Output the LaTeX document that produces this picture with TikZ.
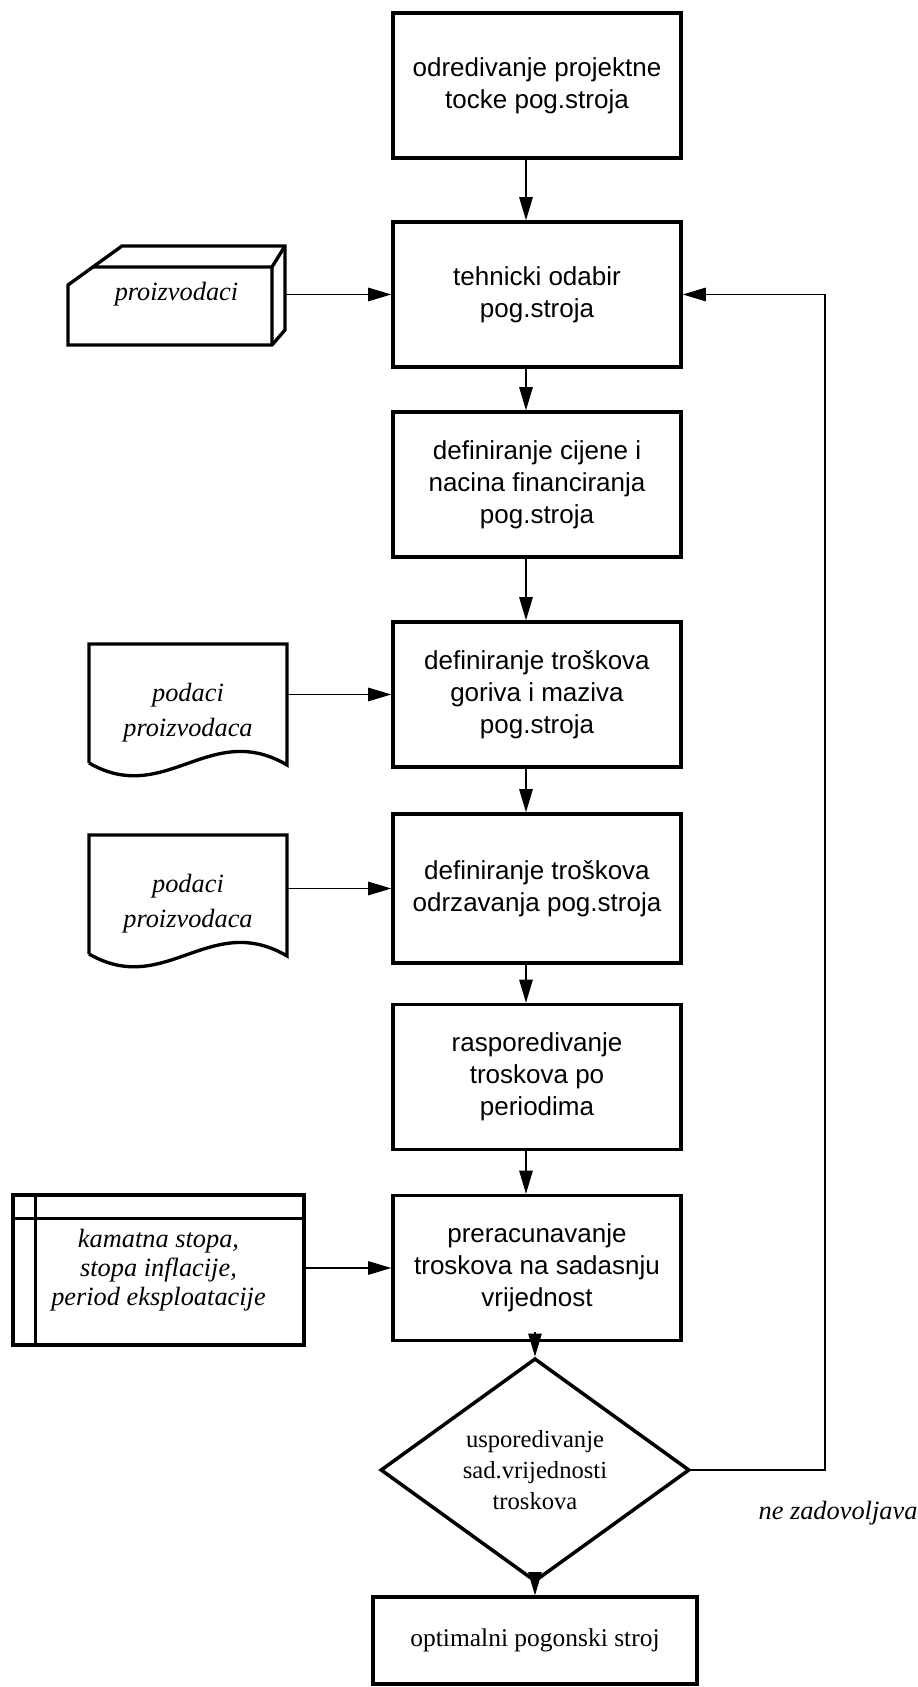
\documentclass[tikz,border=0pt]{standalone}
\usepackage{fontspec}
\setmainfont{Liberation Serif}
\setsansfont{Liberation Sans}
\usetikzlibrary{
  arrows.meta,
  calc,
  positioning,
  shapes.geometric
}
\tikzset{
  flowBox/.style={
    draw,
    line width=2pt,
    minimum width=5.76cm,
    minimum height=2.9cm,
    align=center,
    font=\sffamily\fontsize{14.8}{18.2}\selectfont,
    inner sep=4pt
  },
  flowArrow/.style={-{Triangle[length=4.6mm,width=2.7mm]}, line width=0.6pt},
  shapeEdge/.style={line width=1.9pt, line join=miter},
  inputText/.style={
    align=center,
    font=\itshape\fontsize{15}{19.8}\selectfont,
    inner sep=0pt
  },
  tableBox/.style={
    draw,
    line width=1.9pt,
    minimum width=5.82cm,
    minimum height=3cm,
    align=center,
    font=\itshape\fontsize{15}{16.5}\selectfont
  },
  decisionNode/.style={
    draw,
    diamond,
    line width=2pt,
    minimum width=6.18cm,
    minimum height=4.04cm,
    inner sep=0pt,
    align=center,
    font=\fontsize{14}{17.6}\selectfont
  },
  endBox/.style={
    draw,
    line width=2pt,
    minimum width=6.48cm,
    minimum height=1.74cm,
    font=\fontsize{14.5}{17}\selectfont
  }
}

\begin{document}
\begin{tikzpicture}[x=1cm,y=1cm]
  \useasboundingbox (0,0) rectangle (18.36,33.74);

  \node[flowBox] (s1) at (10.74,32.03) {odredivanje projektne\\tocke pog.stroja};
  \node[flowBox] (s2) at (10.74,27.85) {tehnicki odabir\\pog.stroja};
  \node[flowBox] (s3) at (10.74,24.05) {definiranje cijene i\\nacina financiranja\\pog.stroja};
  \node[flowBox] (s4) at (10.74,19.85) {definiranje troškova\\goriva i maziva\\pog.stroja};
  \node[flowBox, minimum height=2.98cm] (s5) at (10.74,15.97) {definiranje troškova\\odrzavanja pog.stroja};
  \node[flowBox] (s6) at (10.74,12.2) {rasporedivanje\\troskova po\\periodima};
  \node[flowBox] (s7) at (10.74,8.38) {preracunavanje\\troskova na sadasnju\\vrijednost};
  \node[decisionNode] (dec) at (10.7,4.34) {usporedivanje\\sad.vrijednosti\\troskova};
  \node[endBox] (opt) at (10.7,0.93) {optimalni pogonski stroj};

  % manufacturers box
  \draw[shapeEdge] (1.36,26.84) -- (1.36,28.04) -- (2.44,28.82) -- (5.70,28.82)
    -- (5.70,27.14) -- (5.44,26.84) -- cycle;
  \draw[shapeEdge] (1.86,28.40) -- (5.44,28.40) -- (5.44,26.84)
    (5.44,28.40) -- (5.70,28.82);
  \node[inputText, minimum width=4.34cm] (prz) at (3.53,27.85) {proizvodaci};

  % data sheets
  \foreach \n/\y/\t in {1/20.86/s4, 2/17.04/s5}{
    \draw[shapeEdge] (1.78,\y-2.38) -- (1.78,\y) -- (5.74,\y) -- (5.74,\y-2.42)
      .. controls (4.2,\y-1.51) and (3.3,\y-3.26) .. (1.78,\y-2.38);
    \node[inputText, minimum width=3.96cm] (doc\n) at (3.76,\y-1.37) {podaci\\proizvodaca};
    \draw[flowArrow] (doc\n.east |- \t.west) -- (\t.west);
  }

  \node[tableBox] (tbl) at (3.17,8.34) {kamatna stopa,\\stopa inflacije,\\period eksploatacije};
  \draw[shapeEdge] ([xshift=0.48cm]tbl.north west) -- ([xshift=0.48cm]tbl.south west);
  \draw[shapeEdge] ([yshift=-0.5cm]tbl.north west) -- ([yshift=-0.5cm]tbl.north east);

  \draw[flowArrow] (prz.east) -- (s2.west);
  \draw[flowArrow] (tbl.east |- s7.west) -- (s7.west);
  \foreach \a/\b in {s1/s2, s2/s3, s3/s4, s4/s5, s5/s6, s6/s7}
    \draw[flowArrow] ([xshift=-0.22cm]\a.south) -- ([xshift=-0.22cm]\b.north);
  \draw[flowArrow, shorten <=0.2cm] (dec.north |- s7.south) -- (dec.north);
  \draw[flowArrow] (dec.south) -- (opt.north);

  \coordinate (back) at (16.5,4.34);
  \draw[flowArrow] (dec.east) -- (back) |- (s2.east);
  \node[font=\itshape\fontsize{15}{18}\selectfont] (nz) at (16.76,3.48) {ne zadovoljava};
\end{tikzpicture}
\end{document}
